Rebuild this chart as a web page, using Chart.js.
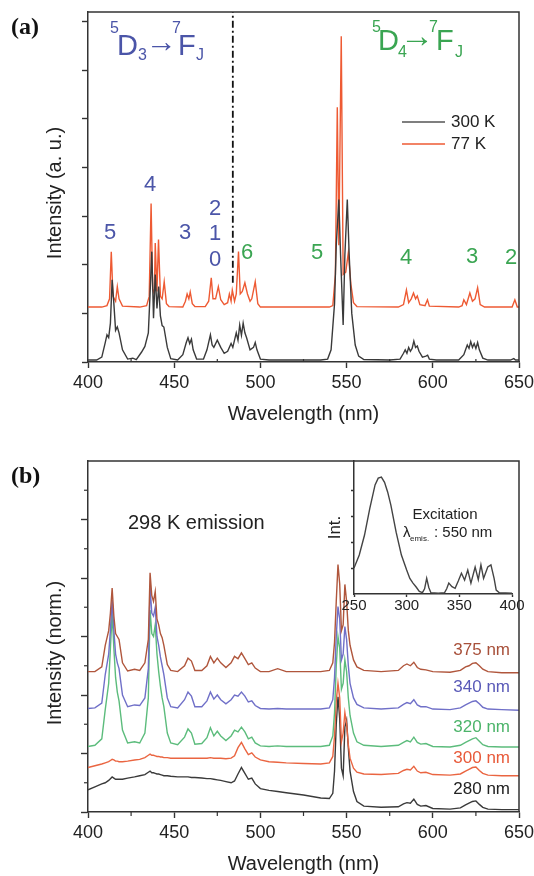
<!DOCTYPE html>
<html>
<head>
<meta charset="utf-8">
<script src="https://cdn.jsdelivr.net/npm/chart.js@4/dist/chart.umd.min.js"></script>
<style>
  body { margin: 0; background: #fff; width: 534px; height: 876px; position: relative; overflow: hidden; }
  canvas { position: absolute; }
  #chartA { left: 0; top: 0; }
  #chartB { left: 0; top: 430px; }
  #inset { left: 300px; top: 455px; }
</style>
</head>
<body>
<canvas id="chartA" width="534" height="430"></canvas>
<canvas id="chartB" width="534" height="446"></canvas>
<canvas id="inset" width="224" height="165"></canvas>
<script>
// panel (a): emission at 300 K and 77 K, [wavelength nm, intensity]
const spec300K = [
  [400,0.04],[405,0.04],[408,0.10],[410,0.40],[411,0.56],[412,0.50],[413,0.80],[414,1.69],[415,1.20],[416,0.65],
  [417,0.72],[418,0.60],[420,0.25],[423,0.06],[426,0.08],[428,0.05],[431,0.20],[433,0.32],[435,0.60],[436,1.40],
  [437,2.27],[438,0.90],[439,1.80],[440,1.10],[441,1.55],[442,0.95],[443,0.75],[444,0.72],[446,0.30],[448,0.07],
  [452,0.04],[455,0.15],[457,0.40],[458,0.50],[459,0.38],[460,0.47],[461,0.25],[463,0.06],[467,0.06],[469,0.25],
  [471,0.56],[472,0.35],[473,0.30],[475,0.45],[477,0.30],[479,0.18],[481,0.22],[483,0.38],[484,0.30],[485,0.45],
  [486,0.60],[487,0.45],[488,0.76],[489,0.55],[490,0.80],[491,0.60],[492,0.50],[494,0.25],[496,0.30],[497,0.40],
  [498,0.25],[500,0.06],[505,0.04],[520,0.04],[535,0.04],[539,0.06],[541,0.25],[543,1.20],[544,2.40],[545.5,3.34],
  [546.5,2.20],[548,0.76],[549,2.20],[550.4,3.34],[551.5,2.20],[553,1.00],[555,0.35],[557,0.12],[560,0.05],[575,0.04],
  [581,0.06],[583,0.18],[584,0.25],[585,0.18],[586,0.30],[587,0.22],[588,0.28],[589,0.43],[590,0.30],[591,0.33],
  [592,0.22],[594,0.10],[596,0.12],[597,0.14],[598,0.06],[602,0.04],[615,0.04],[618,0.15],[619,0.25],[620,0.35],
  [621,0.28],[622,0.42],[623,0.30],[624,0.38],[625,0.28],[626,0.40],[627,0.25],[629,0.08],[632,0.04],[645,0.04],
  [647,0.07],[648,0.04],[650,0.04]
];
const spec77K = [
  [400,1.13],[408,1.13],[411,1.16],[412.5,1.30],[413.5,2.27],[414.5,1.35],[416,1.25],[417,1.55],[418,1.30],[420,1.15],
  [430,1.13],[434,1.16],[435.5,1.35],[436.6,3.26],[437.5,1.50],[438.5,1.40],[439,2.45],[440,1.45],[440.9,2.52],[442,1.35],
  [443,1.30],[444.2,1.65],[445.5,1.20],[447,1.14],[455,1.13],[456.5,1.25],[457.5,1.40],[458.5,1.30],[459.3,1.44],[460.5,1.20],
  [462,1.14],[468,1.14],[470,1.25],[471.5,1.73],[472.5,1.30],[474,1.30],[475.6,1.55],[477,1.28],[479,1.18],[481,1.22],
  [482,1.40],[483,1.25],[483.7,1.48],[485,1.25],[486,1.40],[487.3,2.27],[488.3,1.40],[489.5,1.45],[491,1.63],[492.5,1.40],
  [494,1.25],[495,1.30],[497,1.65],[498.5,1.20],[500,1.13],[540,1.13],[542,1.16],[543.5,1.80],[544.6,5.24],[545.5,2.40],
  [546.9,6.70],[548,1.80],[549.5,1.85],[551,2.25],[552.5,1.60],[554,1.22],[556,1.14],[580,1.13],[583,1.18],[584.7,1.48],
  [586,1.22],[587.5,1.30],[588.8,1.42],[590,1.30],[591,1.36],[592.5,1.18],[595.5,1.16],[596.9,1.28],[598,1.15],[615,1.13],
  [617,1.16],[618,1.28],[619.5,1.18],[621.5,1.42],[623,1.25],[624.5,1.30],[626,1.53],[627.5,1.18],[630,1.13],[646,1.13],
  [647.6,1.28],[649,1.13],[650,1.13]
];
// dash-dot divider between 5D3 and 5D4 regions
const dividerLine = [[484,1.63],[484,7.2]];
const aYTicks = [0,1,2,3,4,5,6,7];

// panel (b): 298 K emission for several excitation wavelengths (normalised, stacked)
const bWave = [
  400,404,408,410,412,413,414,415,416,417,
  418,420,423,427,430,433,435,436,437,438,
  439,440,441,442,443,444,446,448,452,456,
  458,460,462,466,469,471,473,475,477,480,
  483,485,487,489,491,493,495,497,500,505,
  510,515,525,535,540,542,543,544,545,546,
  547,548,549,550,551,552,554,556,560,570,
  580,583,585,587,589,591,593,596,600,610,
  616,619,621,623,625,627,629,632,640,650
];
const ex375 = [
  2.40,2.40,2.48,2.85,3.10,3.40,3.83,3.35,3.05,3.00,
  2.95,2.55,2.41,2.44,2.42,2.55,2.95,4.09,3.70,3.60,
  3.77,3.30,3.20,3.05,2.98,2.85,2.52,2.42,2.40,2.50,
  2.63,2.58,2.42,2.42,2.50,2.66,2.55,2.63,2.55,2.47,
  2.55,2.66,2.62,2.72,2.62,2.52,2.55,2.46,2.40,2.40,
  2.45,2.40,2.40,2.40,2.42,2.55,2.90,3.60,4.23,3.90,
  3.10,3.20,3.89,3.60,3.10,2.85,2.60,2.48,2.42,2.40,
  2.42,2.50,2.53,2.50,2.56,2.47,2.44,2.43,2.40,2.39,
  2.42,2.48,2.50,2.54,2.55,2.50,2.44,2.40,2.38,2.38
];
const ex340 = [
  1.77,1.78,1.86,2.35,2.70,3.10,3.63,3.10,2.70,2.55,
  2.45,2.00,1.80,1.83,1.82,1.95,2.45,3.85,3.40,3.35,
  3.50,3.00,2.85,2.65,2.50,2.35,1.95,1.80,1.78,1.92,
  2.05,1.98,1.80,1.80,1.90,2.05,1.93,2.00,1.92,1.85,
  1.92,2.00,1.98,2.05,1.98,1.88,1.90,1.82,1.77,1.76,
  1.77,1.76,1.76,1.76,1.78,1.92,2.30,3.00,3.51,3.30,
  2.60,2.70,3.17,2.95,2.50,2.20,1.95,1.84,1.78,1.76,
  1.78,1.84,1.87,1.85,1.92,1.83,1.80,1.80,1.76,1.75,
  1.78,1.83,1.86,1.89,1.90,1.85,1.79,1.76,1.75,1.74
];
const ex320 = [
  1.12,1.14,1.25,1.75,2.20,2.80,3.40,2.80,2.30,2.05,
  1.90,1.40,1.18,1.20,1.18,1.35,1.95,3.45,3.05,3.00,
  3.20,2.70,2.40,2.15,1.95,1.80,1.35,1.18,1.15,1.28,
  1.42,1.35,1.16,1.17,1.27,1.44,1.30,1.38,1.30,1.22,
  1.30,1.40,1.37,1.45,1.37,1.25,1.28,1.18,1.13,1.12,
  1.13,1.12,1.12,1.12,1.14,1.30,1.70,2.50,3.00,2.80,
  2.10,2.20,2.60,2.40,1.95,1.65,1.35,1.20,1.14,1.12,
  1.14,1.19,1.22,1.20,1.28,1.19,1.16,1.17,1.12,1.11,
  1.14,1.19,1.22,1.25,1.27,1.21,1.15,1.12,1.11,1.11
];
const ex300 = [
  0.76,0.79,0.82,0.84,0.86,0.88,0.90,0.89,0.87,0.87,
  0.86,0.86,0.87,0.89,0.90,0.93,0.97,0.99,0.97,0.97,
  0.96,0.95,0.95,0.94,0.94,0.93,0.93,0.92,0.92,0.92,
  0.92,0.92,0.92,0.92,0.92,0.93,0.92,0.92,0.92,0.91,
  0.92,0.96,1.10,1.19,1.08,0.98,1.01,0.94,0.89,0.86,
  0.85,0.84,0.83,0.82,0.84,0.95,1.30,1.90,2.20,1.95,
  1.20,1.35,1.70,1.50,1.15,0.92,0.75,0.68,0.65,0.64,
  0.66,0.71,0.73,0.72,0.78,0.70,0.67,0.68,0.64,0.63,
  0.65,0.70,0.73,0.76,0.77,0.71,0.66,0.63,0.62,0.62
];
const ex280 = [
  0.38,0.43,0.48,0.50,0.54,0.57,0.60,0.58,0.56,0.56,
  0.56,0.56,0.58,0.60,0.62,0.64,0.68,0.70,0.67,0.67,
  0.66,0.65,0.65,0.64,0.63,0.62,0.62,0.61,0.60,0.60,
  0.60,0.59,0.59,0.58,0.57,0.57,0.56,0.55,0.54,0.52,
  0.50,0.53,0.65,0.76,0.66,0.56,0.58,0.48,0.40,0.37,
  0.35,0.33,0.29,0.24,0.23,0.32,0.70,1.50,1.97,1.60,
  0.75,0.62,1.45,1.57,1.10,0.70,0.35,0.18,0.10,0.08,
  0.09,0.14,0.16,0.15,0.22,0.13,0.10,0.11,0.06,0.05,
  0.07,0.12,0.15,0.18,0.19,0.13,0.08,0.05,0.04,0.04
];
const bYTicks = [0,1,2,3,4,5];
const bYMinor = [0.5,1.5,2.5,3.5,4.5,5.5];
const xMinor = [425,475,525,575,625];

// inset: excitation spectrum monitored at 550 nm
const excitation = [
  [250,1.0],[255,1.5],[260,2.27],[265,3.3],[270,4.2],[273,4.46],[276,4.5],[279,4.3],[282,3.92],[285,3.42],
  [290,2.38],[295,1.5],[300,0.92],[303,0.6],[306,0.42],[309,0.27],[312,0.1],[315,0.05],[317,0.2],[319,0.6],
  [321,0.25],[323,0.05],[330,0.03],[336,0.05],[338,0.2],[340,0.42],[343,0.28],[346,0.22],[349,0.5],[352,0.8],
  [355,0.54],[358,0.92],[361,0.42],[365,1.04],[368,0.55],[370.5,1.12],[373,0.6],[377,1.04],[380,1.12],[383,0.6],
  [385,0.15],[388,0.05],[400,0.03]
];
const insetYTicks = [1,2,3,4];

const FONT = '"Liberation Sans", Arial, sans-serif';
const SERIF = '"Liberation Serif", "Times New Roman", serif';
const AXIS = '#333';

const toXY = (pairs) => pairs.map(p => ({ x: p[0], y: p[1] }));
const zipXY = (xs, ys) => xs.map((x, i) => ({ x: x, y: ys[i] }));

// top/right frame plus short minor ticks
const framePlugin = {
  id: 'frame',
  afterDraw(chart, args, opts) {
    const ctx = chart.ctx;
    const a = chart.chartArea;
    ctx.save();
    ctx.strokeStyle = AXIS;
    ctx.lineWidth = 1.5;
    if (opts.box) {
      ctx.beginPath();
      ctx.moveTo(a.left, a.top);
      ctx.lineTo(a.right, a.top);
      ctx.lineTo(a.right, a.bottom);
      ctx.stroke();
    }
    ctx.lineWidth = 1.2;
    const len = opts.minorLen || 4;
    (opts.xMinor || []).forEach(v => {
      const px = chart.scales.x.getPixelForValue(v);
      ctx.beginPath();
      ctx.moveTo(px, a.bottom);
      ctx.lineTo(px, a.bottom + len * (opts.xDir || 1));
      ctx.stroke();
    });
    (opts.yMinor || []).forEach(v => {
      const py = chart.scales.y.getPixelForValue(v);
      ctx.beginPath();
      ctx.moveTo(a.left, py);
      ctx.lineTo(a.left - len, py);
      ctx.stroke();
    });
    ctx.restore();
  }
};

// free text and legend strokes
const textPlugin = {
  id: 'texts',
  afterDraw(chart, args, opts) {
    const ctx = chart.ctx;
    ctx.save();
    (opts.lines || []).forEach(l => {
      ctx.strokeStyle = l.color;
      ctx.lineWidth = 1.5;
      ctx.beginPath();
      ctx.moveTo(l.x1, l.y);
      ctx.lineTo(l.x2, l.y);
      ctx.stroke();
    });
    (opts.items || []).forEach(t => {
      ctx.save();
      ctx.font = (t.bold ? 'bold ' : '') + t.size + 'px ' + (t.serif ? SERIF : FONT);
      ctx.fillStyle = t.color || '#222';
      ctx.textAlign = t.align || 'left';
      ctx.textBaseline = t.base || 'middle';
      ctx.translate(t.x, t.y);
      if (t.rot) ctx.rotate(t.rot);
      ctx.fillText(t.text, 0, 0);
      ctx.restore();
    });
    ctx.restore();
  }
};

function xScale(opts) {
  return {
    type: 'linear',
    min: opts.min,
    max: opts.max,
    afterFit: s => { s.height = opts.height; s.paddingLeft = 0; s.paddingRight = 0; },
    ticks: {
      stepSize: 50, autoSkip: false, maxRotation: 0, padding: opts.pad,
      color: '#222', font: { family: FONT, size: opts.size }
    },
    grid: { drawOnChartArea: false, tickLength: opts.tick, color: AXIS, tickWidth: 1.4 },
    border: { color: AXIS, width: 1.5 },
    title: opts.title ? {
      display: true, text: opts.title, color: '#222',
      font: { family: FONT, size: 20 }, padding: { top: 0, bottom: opts.titlePad }
    } : { display: false }
  };
}

function yScale(opts) {
  return {
    min: opts.min,
    max: opts.max,
    afterFit: s => { s.width = opts.width; },
    afterBuildTicks: s => { s.ticks = opts.ticks.map(v => ({ value: v })); },
    ticks: { display: false },
    grid: { drawOnChartArea: false, tickLength: opts.tick, color: AXIS, tickWidth: 1.4 },
    border: { color: AXIS, width: 1.5 },
    title: opts.title ? {
      display: true, text: opts.title, color: '#222',
      font: { family: FONT, size: 17 }, padding: { top: opts.titlePad, bottom: 0 }
    } : { display: false }
  };
}

const common = {
  responsive: false,
  animation: false,
  events: [],
  elements: { point: { radius: 0 }, line: { tension: 0, borderWidth: 1.4 } }
};

const BLUE = '#4b55a8';
const GREEN = '#3aa552';

// ---------- panel (a) ----------
new Chart(document.getElementById('chartA'), {
  type: 'line',
  data: {
    datasets: [
      { label: '300 K', data: toXY(spec300K), borderColor: '#3a3a3a' },
      { label: '77 K', data: toXY(spec77K), borderColor: '#ee5a33' },
      { label: 'divider', data: toXY(dividerLine), borderColor: '#111', borderWidth: 1.8, borderDash: [7, 3, 2, 3] }
    ]
  },
  options: Object.assign({}, common, {
    layout: { padding: { left: 0, top: 12, right: 15, bottom: 0 } },
    plugins: {
      legend: { display: false },
      tooltip: { enabled: false },
      frame: { box: true, xMinor: xMinor, xDir: -1, minorLen: 3 },
      texts: {
        lines: [
          { x1: 402, x2: 445, y: 122, color: '#555' },
          { x1: 402, x2: 445, y: 144, color: '#ee5a33' }
        ],
        items: [
          { text: '(a)', x: 11, y: 28, size: 24, bold: true, serif: true, color: '#111' },
          { text: 'Intensity (a. u.)', x: 55, y: 193, size: 20, rot: -Math.PI / 2, align: 'center' },
          // 5D3 -> 7FJ
          { text: '5', x: 110, y: 33, size: 16, base: 'alphabetic', color: BLUE },
          { text: 'D', x: 117, y: 55, size: 29, base: 'alphabetic', color: BLUE },
          { text: '3', x: 138, y: 60, size: 16, base: 'alphabetic', color: BLUE },
          { text: '\u2192', x: 146, y: 52, size: 31, base: 'alphabetic', color: BLUE },
          { text: '7', x: 172, y: 33, size: 16, base: 'alphabetic', color: BLUE },
          { text: 'F', x: 178, y: 55, size: 29, base: 'alphabetic', color: BLUE },
          { text: 'J', x: 196, y: 60, size: 16, base: 'alphabetic', color: BLUE },
          // 5D4 -> 7FJ
          { text: '5', x: 372, y: 32, size: 16, base: 'alphabetic', color: GREEN },
          { text: 'D', x: 378, y: 50, size: 29, base: 'alphabetic', color: GREEN },
          { text: '4', x: 398, y: 57, size: 16, base: 'alphabetic', color: GREEN },
          { text: '\u2192', x: 400, y: 47, size: 34, base: 'alphabetic', color: GREEN },
          { text: '7', x: 429, y: 32, size: 16, base: 'alphabetic', color: GREEN },
          { text: 'F', x: 436, y: 50, size: 29, base: 'alphabetic', color: GREEN },
          { text: 'J', x: 455, y: 57, size: 16, base: 'alphabetic', color: GREEN },
          // J labels
          { text: '5', x: 110, y: 233, size: 22, align: 'center', color: BLUE },
          { text: '4', x: 150, y: 185, size: 22, align: 'center', color: BLUE },
          { text: '3', x: 185, y: 233, size: 22, align: 'center', color: BLUE },
          { text: '2', x: 215, y: 209, size: 22, align: 'center', color: BLUE },
          { text: '1', x: 215, y: 234, size: 22, align: 'center', color: BLUE },
          { text: '0', x: 215, y: 260, size: 22, align: 'center', color: BLUE },
          { text: '6', x: 247, y: 253, size: 22, align: 'center', color: GREEN },
          { text: '5', x: 317, y: 253, size: 22, align: 'center', color: GREEN },
          { text: '4', x: 406, y: 258, size: 22, align: 'center', color: GREEN },
          { text: '3', x: 472, y: 257, size: 22, align: 'center', color: GREEN },
          { text: '2', x: 511, y: 258, size: 22, align: 'center', color: GREEN },
          // legend
          { text: '300 K', x: 451, y: 122, size: 17 },
          { text: '77 K', x: 451, y: 144, size: 17 }
        ]
      }
    },
    scales: {
      x: xScale({ min: 400, max: 650, height: 68, pad: 4, size: 18, tick: 6, title: 'Wavelength (nm)', titlePad: 4 }),
      y: yScale({ min: 0, max: 7.2, width: 88, ticks: aYTicks, tick: 6 })
    }
  }),
  plugins: [framePlugin, textPlugin]
});

// ---------- panel (b) ----------
const bColors = { 375: '#b0563c', 340: '#7070c8', 320: '#5cbc7c', 300: '#ea6541', 280: '#3a3a3a' };

new Chart(document.getElementById('chartB'), {
  type: 'line',
  data: {
    datasets: [
      { label: '375 nm', data: zipXY(bWave, ex375), borderColor: bColors[375] },
      { label: '340 nm', data: zipXY(bWave, ex340), borderColor: bColors[340] },
      { label: '320 nm', data: zipXY(bWave, ex320), borderColor: bColors[320] },
      { label: '300 nm', data: zipXY(bWave, ex300), borderColor: bColors[300] },
      { label: '280 nm', data: zipXY(bWave, ex280), borderColor: bColors[280] }
    ]
  },
  options: Object.assign({}, common, {
    layout: { padding: { left: 0, top: 31, right: 15, bottom: 0 } },
    plugins: {
      legend: { display: false },
      tooltip: { enabled: false },
      frame: { box: true, xMinor: xMinor, yMinor: bYMinor, xDir: 1, minorLen: 4 },
      texts: {
        items: [
          { text: '(b)', x: 11, y: 47, size: 24, bold: true, serif: true, color: '#111' },
          { text: 'Intensity (norm.)', x: 55, y: 223, size: 20, rot: -Math.PI / 2, align: 'center' },
          { text: '298 K emission', x: 128, y: 93, size: 20 },
          { text: '375 nm', x: 510, y: 220, size: 17, align: 'right', color: '#a8503a' },
          { text: '340 nm', x: 510, y: 257, size: 17, align: 'right', color: '#5a5ab8' },
          { text: '320 nm', x: 510, y: 297, size: 17, align: 'right', color: '#4cb46a' },
          { text: '300 nm', x: 510, y: 328, size: 17, align: 'right', color: '#e85a3a' },
          { text: '280 nm', x: 510, y: 359, size: 17, align: 'right', color: '#222' }
        ]
      }
    },
    scales: {
      x: xScale({ min: 400, max: 650, height: 64, pad: 4, size: 18, tick: 6, title: 'Wavelength (nm)', titlePad: 0 }),
      y: yScale({ min: 0, max: 6, width: 88, ticks: bYTicks, tick: 7 })
    }
  }),
  plugins: [framePlugin, textPlugin]
});

// ---------- inset ----------
new Chart(document.getElementById('inset'), {
  type: 'line',
  data: {
    datasets: [
      { label: 'Excitation', data: toXY(excitation), borderColor: '#444', borderWidth: 1.4 }
    ]
  },
  options: Object.assign({}, common, {
    layout: { padding: { left: 0, top: 6, right: 12, bottom: 0 } },
    plugins: {
      legend: { display: false },
      tooltip: { enabled: false },
      frame: { box: false },
      texts: {
        items: [
          { text: 'Excitation', x: 145, y: 60, size: 15, align: 'center' },
          { text: '\u03bb', x: 103, y: 78, size: 15 },
          { text: 'emis.', x: 110, y: 84, size: 8 },
          { text: ': 550 nm', x: 134, y: 78, size: 15 }
        ]
      }
    },
    scales: {
      x: xScale({ min: 250, max: 400, height: 26, pad: 0, size: 15, tick: 3 }),
      y: yScale({ min: 0, max: 5.12, width: 54, ticks: insetYTicks, tick: 3, title: 'Int.', titlePad: 25 })
    }
  }),
  plugins: [framePlugin, textPlugin]
});
</script>
</body>
</html>
